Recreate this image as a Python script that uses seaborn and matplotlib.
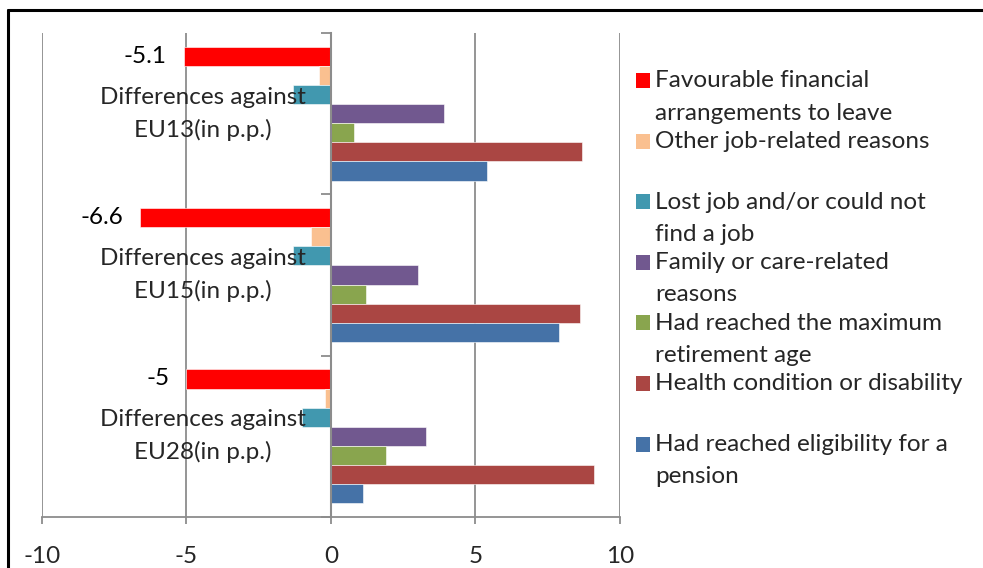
import matplotlib
matplotlib.use("Agg")
import matplotlib.pyplot as plt
from matplotlib.patches import Patch, Rectangle
from matplotlib.legend_handler import HandlerPatch
from matplotlib.lines import Line2D
import seaborn as sns
import pandas as pd

# Reasons for retiring: differences (percentage points) against EU averages
groups = ["Differences against\nEU13(in p.p.)",
          "Differences against\nEU15(in p.p.)",
          "Differences against\nEU28(in p.p.)"]

reasons = ["Favourable financial\narrangements to leave",
           "Other job-related reasons\n ",
           "Lost job and/or could not\nfind a job",
           "Family or care-related\nreasons",
           "Had reached the maximum\nretirement age",
           "Health condition or disability\n ",
           "Had reached eligibility for a\npension"]

favourable = [-5.1, -6.6, -5.0]
other_job = [-0.4, -0.7, -0.2]
lost_job = [-1.3, -1.3, -1.0]
family_care = [3.9, 3.0, 3.3]
max_age = [0.8, 1.2, 1.9]
health = [8.7, 8.6, 9.1]
eligibility = [5.4, 7.9, 1.1]

colors = ["#FF0000", "#FAC090", "#4198AF", "#71588F", "#89A54E", "#AA4643", "#4572A7"]

series = [favourable, other_job, lost_job, family_care, max_age, health, eligibility]
df = pd.DataFrame(
    [(g, r, v) for r, vals in zip(reasons, series) for g, v in zip(groups, vals)],
    columns=["group", "reason", "value"],
)

sns.set_style("white")
plt.rcParams["font.family"] = ["Lato", "DejaVu Sans"]
plt.rcParams["axes.unicode_minus"] = False

FS = 17.5

fig = plt.figure(figsize=(9.83, 5.68), dpi=100)
ax = fig.add_axes([0.0427, 0.0898, 0.5880, 0.8521])

sns.barplot(data=df, y="group", x="value", hue="reason", order=groups,
            hue_order=reasons, palette=colors, orient="h", width=0.83,
            saturation=1, errorbar=None, ax=ax, legend=False,
            edgecolor="white", linewidth=0.4)

# value labels on the first series only
ax.bar_label(ax.containers[0], fmt="{:g}", padding=12, fontsize=FS, color="black")

ax.set_xlim(-10, 10)
ax.set_xticks([-10, -5, 0, 5, 10])
ax.set_ylim(2.5, -0.5)
ax.set_xlabel("")
ax.set_ylabel("")

grid_col = "#8C8C8C"
ax.grid(axis="x", color=grid_col, linewidth=1.3)
ax.grid(axis="y", visible=False)
ax.set_axisbelow(True)
# category axis (crossing at zero) and its labels sit on top of the bars
ax.yaxis.set_zorder(5)

for side in ["top", "right"]:
    ax.spines[side].set_visible(False)
ax.spines["left"].set_position(("data", 0))
ax.spines["left"].set_color(grid_col)
ax.spines["left"].set_linewidth(1.5)
ax.spines["left"].set_zorder(5)
ax.spines["bottom"].set_color(grid_col)
ax.spines["bottom"].set_linewidth(1.3)

# category boundaries carry the tick marks, centres carry the labels
ax.set_yticks([-0.5, 0.5, 1.5, 2.5])
ax.set_yticklabels([])
ax.set_yticks([0, 1, 2], minor=True)
ax.set_yticklabels(groups, minor=True)
ax.tick_params(axis="y", which="major", direction="out", length=7, width=1.3,
               color=grid_col, left=True)
ax.tick_params(axis="y", which="minor", length=0, pad=18, labelsize=FS)
for lbl in ax.get_yticklabels(minor=True):
    lbl.set_multialignment("center")
    lbl.set_verticalalignment("center")
    lbl.set_linespacing(1.6)

ax.tick_params(axis="x", direction="out", length=5, width=1.3, color=grid_col,
               bottom=True, labelsize=FS, pad=16)


class TopLineHandler(HandlerPatch):
    """Square swatch lined up with the first line of a two-line label."""

    def create_artists(self, legend, orig_handle, xdescent, ydescent,
                       width, height, fontsize, trans):
        shift = 11.8
        rect = Rectangle((-xdescent, -ydescent + shift), width, height,
                         facecolor=orig_handle.get_facecolor(),
                         edgecolor="none", transform=trans)
        return [rect]


handles = [Patch(facecolor=c, edgecolor="none") for c in colors]
leg = fig.legend(handles, reasons, loc="upper left", bbox_to_anchor=(0.637, 0.893),
                 frameon=False, fontsize=FS, handlelength=0.58, handleheight=0.58,
                 handletextpad=0.2, labelspacing=0.31, borderaxespad=0,
                 handler_map={Patch: TopLineHandler()})
for t in leg.get_texts():
    t.set_linespacing(1.65)

# outer chart frame (top and left edges)
fig.add_artist(Line2D([8 / 983, 8 / 983], [0, 1 - 10 / 568], transform=fig.transFigure,
                      color="black", linewidth=2.2))
fig.add_artist(Line2D([8 / 983, 1], [1 - 10 / 568, 1 - 10 / 568], transform=fig.transFigure,
                      color="black", linewidth=2.2))

fig.savefig("out.png", dpi=100)
